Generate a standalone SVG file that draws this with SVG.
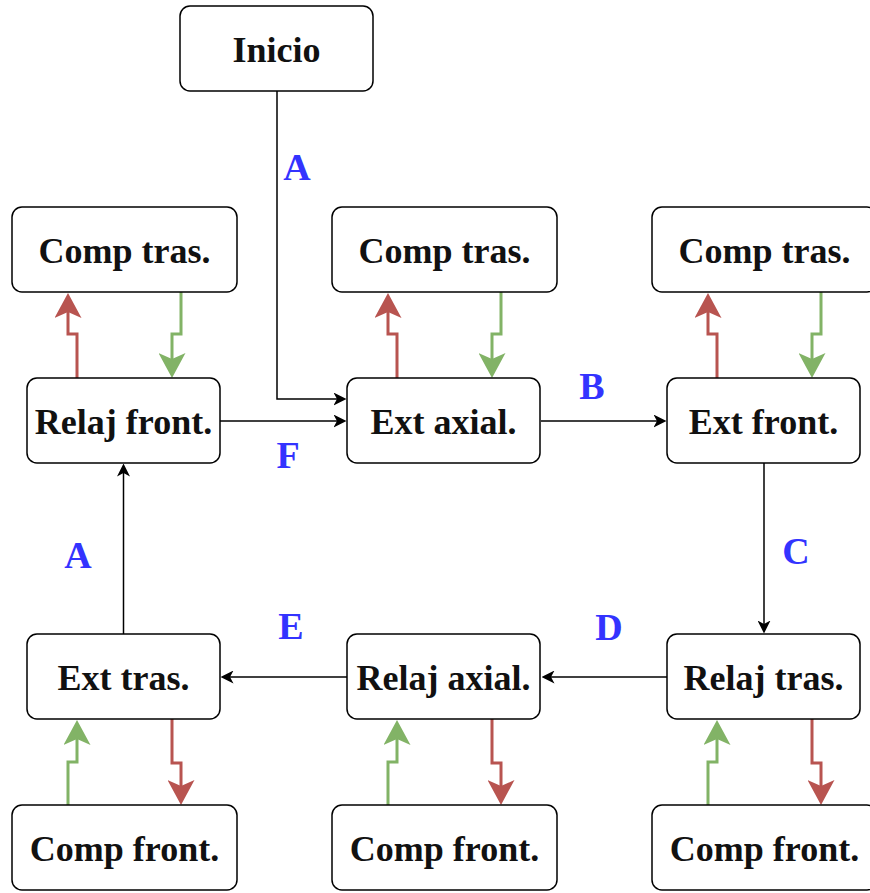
<svg xmlns="http://www.w3.org/2000/svg" width="870" height="893" viewBox="0 0 870 893">
  <style>
    .box { fill: #ffffff; stroke: #000000; stroke-width: 1.5; }
    .txt { font-family: "Liberation Serif", "DejaVu Serif", serif; font-weight: bold; font-size: 36px; fill: #111111; text-anchor: middle; }
    .lbl { font-family: "Liberation Serif", "DejaVu Serif", serif; font-weight: bold; font-size: 38px; fill: #3333ff; text-anchor: middle; }
    .flow { fill: none; stroke: #000000; stroke-width: 1.5; marker-end: url(#arrBlack); }
    .red { fill: none; stroke: #b85450; stroke-width: 3; marker-end: url(#arrRed); }
    .green { fill: none; stroke: #82b366; stroke-width: 3; marker-end: url(#arrGreen); }
  </style>
  <defs>
    <marker id="arrBlack" markerUnits="userSpaceOnUse" viewBox="0 0 13 13" refX="3.5" refY="6.5" markerWidth="13" markerHeight="13" orient="auto">
      <path d="M13,6.5 L0,0 L3.5,6.5 L0,13 Z" fill="#000000"/>
    </marker>
    <marker id="arrRed" markerUnits="userSpaceOnUse" viewBox="0 0 25 27" refX="6" refY="13.5" markerWidth="25" markerHeight="27" orient="auto">
      <path d="M25,13.5 L0,0 L6,13.5 L0,27 Z" fill="#b85450"/>
    </marker>
    <marker id="arrGreen" markerUnits="userSpaceOnUse" viewBox="0 0 25 27" refX="6" refY="13.5" markerWidth="25" markerHeight="27" orient="auto">
      <path d="M25,13.5 L0,0 L6,13.5 L0,27 Z" fill="#82b366"/>
    </marker>
  </defs>

  <!-- flow connectors -->
  <g id="connectors">
    <path class="flow" d="M277,91 V399 H337"/>
    <path class="flow" d="M220,421 H337"/>
    <path class="flow" d="M541,421 H657"/>
    <path class="flow" d="M764,463 V624"/>
    <path class="flow" d="M667,677 H551"/>
    <path class="flow" d="M347,677 H230"/>
    <path class="flow" d="M123.5,634 V473"/>

    <!-- exchange arrows, top row -->
    <path class="red" d="M77,378 V334 H68 V312"/>
    <path class="green" d="M181,292 V334 H172 V359"/>
    <path class="red" d="M397,378 V334 H388 V312"/>
    <path class="green" d="M501,292 V334 H492 V359"/>
    <path class="red" d="M717,378 V334 H708 V312"/>
    <path class="green" d="M821,292 V334 H812 V359"/>

    <!-- exchange arrows, bottom row -->
    <path class="green" d="M68,805 V762 H77 V739"/>
    <path class="red" d="M172,719 V763 H181 V786"/>
    <path class="green" d="M388,805 V762 H397 V739"/>
    <path class="red" d="M492,719 V763 H501 V786"/>
    <path class="green" d="M708,805 V762 H717 V739"/>
    <path class="red" d="M812,719 V763 H821 V786"/>
  </g>

  <!-- edge labels -->
  <g id="labels">
    <text class="lbl" x="297" y="180">A</text>
    <text class="lbl" x="592" y="399">B</text>
    <text class="lbl" x="288" y="468">F</text>
    <text class="lbl" x="796" y="564">C</text>
    <text class="lbl" x="78" y="568">A</text>
    <text class="lbl" x="291" y="639">E</text>
    <text class="lbl" x="609" y="640">D</text>
  </g>

  <g id="inicio">
    <rect class="box" x="180" y="6" width="193" height="85" rx="10"/>
    <text class="txt" x="276.5" y="62">Inicio</text>
  </g>

  <g id="comp-tras-1">
    <rect class="box" x="12" y="207" width="225" height="85" rx="10"/>
    <text class="txt" x="124.5" y="263">Comp tras.</text>
  </g>
  <g id="comp-tras-2">
    <rect class="box" x="332" y="207" width="225" height="85" rx="10"/>
    <text class="txt" x="444.5" y="263">Comp tras.</text>
  </g>
  <g id="comp-tras-3">
    <rect class="box" x="652" y="207" width="225" height="85" rx="10"/>
    <text class="txt" x="764.5" y="263">Comp tras.</text>
  </g>

  <g id="relaj-front">
    <rect class="box" x="27" y="378" width="193" height="85" rx="10"/>
    <text class="txt" x="123.5" y="434">Relaj front.</text>
  </g>
  <g id="ext-axial">
    <rect class="box" x="347" y="378" width="193" height="85" rx="10"/>
    <text class="txt" x="443.5" y="434">Ext axial.</text>
  </g>
  <g id="ext-front">
    <rect class="box" x="667" y="378" width="193" height="85" rx="10"/>
    <text class="txt" x="763.5" y="434">Ext front.</text>
  </g>

  <g id="ext-tras">
    <rect class="box" x="27" y="634" width="193" height="85" rx="10"/>
    <text class="txt" x="123.5" y="690">Ext tras.</text>
  </g>
  <g id="relaj-axial">
    <rect class="box" x="347" y="634" width="193" height="85" rx="10"/>
    <text class="txt" x="443.5" y="690">Relaj axial.</text>
  </g>
  <g id="relaj-tras">
    <rect class="box" x="667" y="634" width="193" height="85" rx="10"/>
    <text class="txt" x="763.5" y="690">Relaj tras.</text>
  </g>

  <g id="comp-front-1">
    <rect class="box" x="12" y="805" width="225" height="85" rx="10"/>
    <text class="txt" x="124.5" y="861">Comp front.</text>
  </g>
  <g id="comp-front-2">
    <rect class="box" x="332" y="805" width="225" height="85" rx="10"/>
    <text class="txt" x="444.5" y="861">Comp front.</text>
  </g>
  <g id="comp-front-3">
    <rect class="box" x="652" y="805" width="225" height="85" rx="10"/>
    <text class="txt" x="764.5" y="861">Comp front.</text>
  </g>
</svg>
